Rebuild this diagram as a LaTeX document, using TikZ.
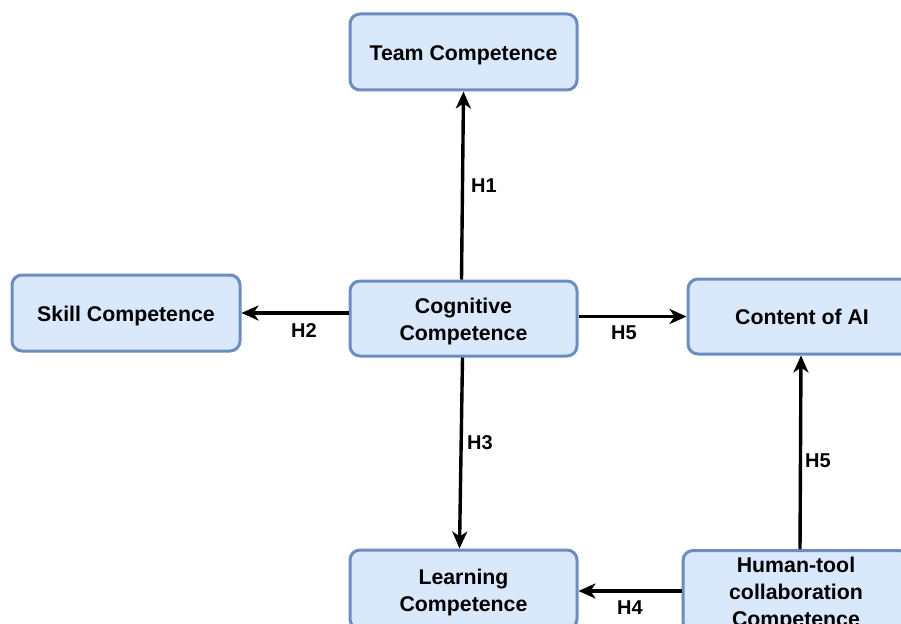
\documentclass[tikz,border=0pt]{standalone}
\usepackage{fontspec}
\setmainfont{Liberation Sans}
\usetikzlibrary{arrows.meta}
\definecolor{boxfill}{HTML}{DAE8FC}
\definecolor{boxdraw}{HTML}{6C8EBF}
\newcommand\boxtext[1]{\raisebox{-2.7pt}[\height][\depth]{\begin{tabular}{@{}c@{}}#1\end{tabular}}}
\tikzset{
  box/.style={draw=boxdraw, fill=boxfill, line width=3pt, rounded corners=10pt,
    inner sep=0pt, align=center, font=\fontsize{21.3}{27}\selectfont\bfseries},
  arr/.style={line width=3.4pt, -{Stealth[length=17pt,width=15pt,inset=5pt]}},
  lab/.style={font=\fontsize{20}{24}\selectfont\bfseries, inner sep=0pt}
}
\begin{document}
\begin{tikzpicture}[x=1pt,y=-1pt]
\useasboundingbox (0,0) rectangle (901,623);
\clip (0,0) rectangle (901,623);
\fill[white] (0,0) rectangle (901,623);
\node[box, minimum width=227pt, minimum height=76pt] (team) at (463.5,52) {\boxtext{Team Competence}};
\node[box, minimum width=228pt, minimum height=76pt] (skill) at (126,313) {\boxtext{Skill Competence}};
\node[box, minimum width=227pt, minimum height=75pt] (cog) at (463.5,318.5) {\boxtext{Cognitive\\Competence}};
\node[box, minimum width=228pt, minimum height=75pt] (ca) at (802,316.5) {\boxtext{Content of AI}};
\node[box, minimum width=227pt, minimum height=79pt] (learn) at (463.5,589.5) {\boxtext{Learning\\Competence}};
\node[box, minimum width=226pt, minimum height=80pt] (ht) at (796,591) {\boxtext{Human-tool\\collaboration\\Competence}};
\draw[arr] ([xshift=-2pt]cog.north) -- (team.south);
\draw[arr] (cog.west |- skill.east) -- (skill.east);
\draw[arr] (cog.east |- ca.west) -- (ca.west);
\draw[arr] ([xshift=-1pt]cog.south) -- ([xshift=-4pt]learn.north);
\draw[arr] (ht.west) -- (learn.east |- ht.west);
\draw[arr] ([xshift=4pt]ht.north) -- ([xshift=-1pt]ca.south);
\node[lab] (h1) at (484,186) {H1};
\node[lab] (h2) at (304,331) {H2};
\node[lab] (h5a) at (624,333) {H5};
\node[lab] (h3) at (480,443) {H3};
\node[lab] (h4) at (630,608) {H4};
\node[lab] (h5b) at (818,461) {H5};
\end{tikzpicture}
\end{document}
